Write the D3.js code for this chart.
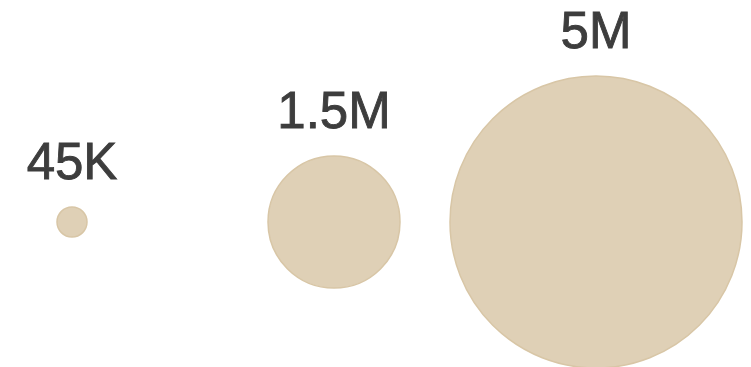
<!DOCTYPE html>
<html>
<head>
<meta charset="utf-8">
<script src="https://cdn.jsdelivr.net/npm/d3@7"></script>
<style>
  html, body { margin: 0; padding: 0; background: #fff; }
  svg { display: block; }
</style>
</head>
<body>
<div id="chart"></div>
<script>
// dữ liệu
const labels = ["45K", "1.5M", "5M"];
const values = [45000, 1500000, 5000000];

const W = 751, H = 367;
const cy = 222;

const svg = d3.select("#chart").append("svg")
  .attr("width", W)
  .attr("height", H);

const x = d3.scalePoint()
  .domain(labels)
  .range([72, 596]);

// bán kính theo giá trị
const r = d3.scaleLinear()
  .domain([45000, 1500000, 5000000])
  .range([15, 66, 146]);

const data = labels.map((l, i) => ({ label: l, value: values[i] }));

svg.selectAll(".bubble")
  .data(data)
  .enter().append("circle")
    .attr("class", "bubble")
    .attr("cx", d => x(d.label))
    .attr("cy", cy)
    .attr("r", d => r(d.value))
    .attr("fill", "#dfd0b6")
    .attr("stroke", "#d8c6a6")
    .attr("stroke-width", 1.5);

svg.selectAll(".lbl")
  .data(data)
  .enter().append("text")
    .attr("class", "lbl")
    .attr("x", d => x(d.label))
    .attr("y", d => cy - r(d.value) - 28.5)
    .attr("text-anchor", "middle")
    .style("font-family", "'Liberation Sans', Arial, sans-serif")
    .style("font-size", "51px")
    .style("fill", "#3d3d3d")
    .style("stroke", "#3d3d3d")
    .style("stroke-width", 0.9)
    .text(d => d.label);
</script>
</body>
</html>
